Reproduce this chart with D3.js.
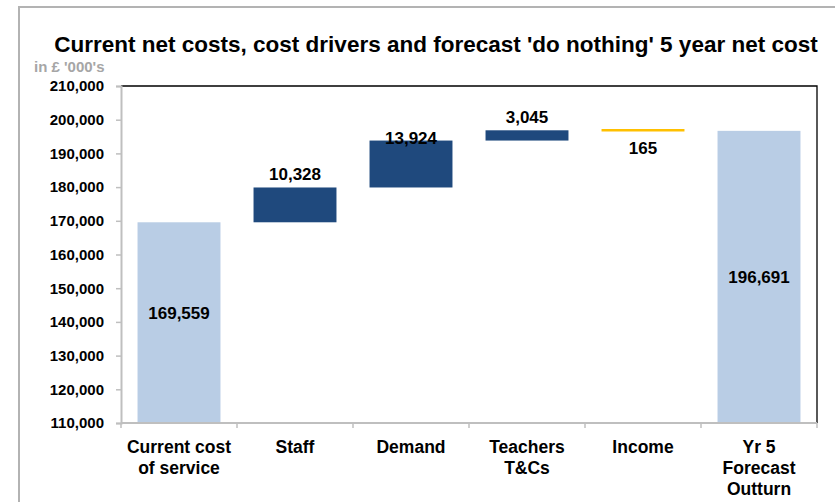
<!DOCTYPE html>
<html>
<head>
<meta charset="utf-8">
<script src="https://cdn.jsdelivr.net/npm/d3@7"></script>
<style>
  body { margin: 0; background: #fff; }
  svg text { font-family: "Liberation Sans", Arial, sans-serif; font-weight: bold; }
</style>
</head>
<body>
<svg id="main_svg" width="835" height="502"></svg>
<script>
// chart data
var categories = [["Current cost", "of service"], ["Staff"], ["Demand"], ["Teachers", "T&Cs"], ["Income"], ["Yr 5", "Forecast", "Outturn"]];
var kinds = ["total", "up", "up", "up", "down", "total"];
var values = [169559, 10328, 13924, 3045, 165, 196691];
var yTicks = d3.range(110000, 210001, 10000);
// label nudge in px (excel put a few of them in odd spots)
var labelNudge = [-10, 0, 10, 0, 0, 0];

var svg = d3.select("#main_svg");

// outer chart frame
svg.append("rect")
    .attr("x", 19).attr("y", 7)
    .attr("width", 830).attr("height", 510)
    .attr("fill", "none")
    .attr("stroke", "#b3b3b3")
    .attr("stroke-width", 2);

svg.append("text")
    .attr("x", 436).attr("y", 52)
    .attr("text-anchor", "middle")
    .attr("font-size", 22.5)
    .attr("fill", "#000")
    .text("Current net costs, cost drivers and forecast 'do nothing' 5 year net cost");

svg.append("text")
    .attr("x", 34).attr("y", 72)
    .attr("font-size", 15)
    .attr("fill", "#a6a6a6")
    .text("in £ '000's");

var plotL = 121, plotR = 817, plotT = 86, plotB = 423;

var x = d3.scaleBand()
    .domain(d3.range(categories.length))
    .range([plotL, plotR])
    .paddingInner(0.285)
    .paddingOuter(0.1425);

var y = d3.scaleLinear()
    .domain([110000, 210000])
    .range([plotB, plotT]);

// work out start / end of each step
var running = 0;
var steps = values.map(function(v, i) {
    var s;
    if (kinds[i] == "total") {
        s = {from: 110000, to: v};
        running = v;
    } else if (kinds[i] == "up") {
        s = {from: running, to: running + v};
        running = running + v;
    } else {
        s = {from: running, to: running - v};
        running = running - v;
    }
    s.kind = kinds[i];
    s.value = v;
    s.i = i;
    return s;
});

// plot area border (top + right black)
svg.append("path")
    .attr("d", "M" + plotL + "," + plotT + "H" + plotR + "V" + plotB)
    .attr("fill", "none")
    .attr("stroke", "#000")
    .attr("stroke-width", 1.3);

var g = svg.append("g");

g.selectAll("rect.bar")
    .data(steps.filter(function(d) { return d.kind != "down"; }))
    .enter()
    .append("rect")
    .attr("class", "bar")
    .attr("x", function(d) { return x(d.i); })
    .attr("width", x.bandwidth())
    .attr("y", function(d) { return y(Math.max(d.from, d.to)); })
    .attr("height", function(d) { return Math.abs(y(d.from) - y(d.to)); })
    .attr("fill", function(d) { return d.kind == "total" ? "#b9cde5" : "#1f497d"; });

// income is so small it's just a line
g.selectAll("line.down")
    .data(steps.filter(function(d) { return d.kind == "down"; }))
    .enter()
    .append("line")
    .attr("class", "down")
    .attr("x1", function(d) { return x(d.i); })
    .attr("x2", function(d) { return x(d.i) + x.bandwidth(); })
    .attr("y1", function(d) { return y(d.from); })
    .attr("y2", function(d) { return y(d.from); })
    .attr("stroke", "#ffc000")
    .attr("stroke-width", 2.5);

g.selectAll("text.lbl")
    .data(steps)
    .enter()
    .append("text")
    .attr("class", "lbl")
    .attr("text-anchor", "middle")
    .attr("font-size", 17)
    .attr("fill", "#000")
    .attr("x", function(d) { return x(d.i) + x.bandwidth() / 2; })
    .attr("y", function(d) {
        var p;
        if (d.kind == "total") p = (y(d.from) + y(d.to)) / 2 + 6;
        else if (d.kind == "up") p = y(d.to) - 7;
        else p = y(d.from) + 24;
        return p + labelNudge[d.i];
    })
    .text(function(d) { return d3.format(",")(d.value); });

// y axis
var yAxis = svg.append("g")
    .attr("transform", "translate(" + plotL + ",0)")
    .call(d3.axisLeft(y).tickValues(yTicks).tickFormat(d3.format(",")).tickSize(5).tickPadding(12));
yAxis.select(".domain").attr("stroke", "#bfbfbf").attr("stroke-width", 2);
yAxis.selectAll(".tick line").attr("stroke", "#bfbfbf").attr("stroke-width", 1.5);
yAxis.selectAll(".tick text")
    .attr("font-size", 15)
    .attr("font-family", "Liberation Sans, Arial, sans-serif")
    .attr("fill", "#000");

// x axis
var xAxis = svg.append("g");
xAxis.append("line")
    .attr("x1", plotL).attr("x2", plotR)
    .attr("y1", plotB).attr("y2", plotB)
    .attr("stroke", "#bfbfbf")
    .attr("stroke-width", 2);
var bounds = d3.range(categories.length + 1).map(function(i) {
    return i < categories.length ? x(i) - x.step() * x.paddingInner() / 2 : plotR;
});
xAxis.selectAll("line.tk")
    .data(bounds)
    .enter()
    .append("line")
    .attr("class", "tk")
    .attr("x1", function(d) { return d; })
    .attr("x2", function(d) { return d; })
    .attr("y1", plotB)
    .attr("y2", plotB + 5)
    .attr("stroke", "#bfbfbf")
    .attr("stroke-width", 1.5);

xAxis.selectAll("text.cat")
    .data(categories)
    .enter()
    .append("text")
    .attr("class", "cat")
    .attr("text-anchor", "middle")
    .attr("font-size", 17.5)
    .attr("fill", "#000")
    .each(function(lines, i) {
        var t = d3.select(this);
        lines.forEach(function(s, j) {
            t.append("tspan")
                .attr("x", x(i) + x.bandwidth() / 2)
                .attr("y", plotB + 30 + j * 21)
                .text(s);
        });
    });
</script>
</body>
</html>
